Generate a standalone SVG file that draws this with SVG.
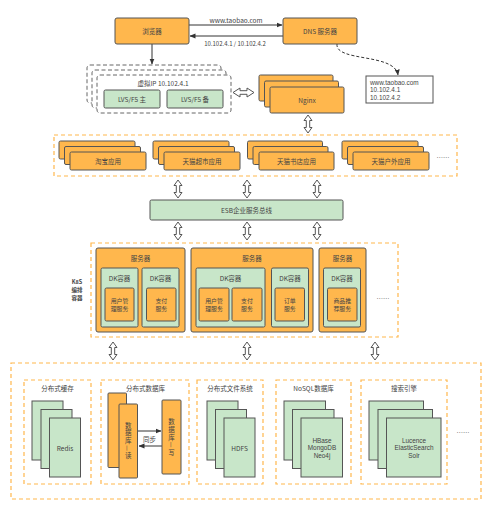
<svg xmlns="http://www.w3.org/2000/svg" xmlns:xlink="http://www.w3.org/1999/xlink" width="500" height="510" viewBox="0 0 500 510">
<style>
.o{fill:#FFB74D;stroke:#555;stroke-width:1}
.g{fill:#C8E6C9;stroke:#555;stroke-width:1}
.w{fill:#fff;stroke:#555;stroke-width:1}
.od{fill:none;stroke:#FFB74D;stroke-width:1.2;stroke-dasharray:4 3}
.gd{fill:#fff;stroke:#666;stroke-width:1;stroke-dasharray:4 2.5}
.t{font-family:"Noto Sans CJK SC","Liberation Sans",sans-serif;font-size:6.5px;fill:#444;text-anchor:middle;dominant-baseline:central}
.m{font-family:"Liberation Sans","Noto Sans CJK SC",sans-serif;font-size:6.4px}
.s{font-size:5.9px}
.l{text-anchor:start}
.b{font-weight:bold;font-size:5.5px}
.ln{fill:none;stroke:#333;stroke-width:1}
.ha{fill:#fff;stroke:#555;stroke-width:1}
.v{writing-mode:vertical-rl;letter-spacing:1.3px}
</style>
<defs>
<marker id="ah" markerWidth="6" markerHeight="6" refX="5.5" refY="3" orient="auto" markerUnits="userSpaceOnUse">
<path d="M0,0.5 L6,3 L0,5.5 Z" fill="#333"/>
</marker>
<path id="va" d="M0,-9 L4,-3.5 L1.7,-3.5 L1.7,3.5 L4,3.5 L0,9 L-4,3.5 L-1.7,3.5 L-1.7,-3.5 L-4,-3.5 Z"/>
</defs>

<g id="connectors">
<line class="ln" x1="189" y1="25" x2="282" y2="25" marker-end="url(#ah)"/>
<line class="ln" x1="283" y1="36" x2="190" y2="36" marker-end="url(#ah)"/>
<text class="t" x="236" y="20">www.taobao.com</text>
<text class="t" x="235" y="43" style="font-size:6px">10.102.4.1 / 10.102.4.2</text>
<line class="ln" x1="152" y1="44" x2="152" y2="64" marker-end="url(#ah)"/>
<path class="ln" d="M337,44 C335,62 395,53 398,75" stroke-dasharray="3 2" marker-end="url(#ah)"/>
<path class="ha" d="M233,92.5 L240,88 L240,90.7 L247,90.7 L247,88 L254,92.5 L247,97 L247,94.3 L240,94.3 L240,97 Z"/>
<use xlink:href="#va" class="ha" x="308" y="124"/>
<use xlink:href="#va" class="ha" x="178" y="189"/>
<use xlink:href="#va" class="ha" x="247" y="189"/>
<use xlink:href="#va" class="ha" x="317" y="189"/>
<use xlink:href="#va" class="ha" x="178" y="231"/>
<use xlink:href="#va" class="ha" x="247" y="231"/>
<use xlink:href="#va" class="ha" x="317" y="231"/>
<use xlink:href="#va" class="ha" x="113" y="351"/>
<use xlink:href="#va" class="ha" x="247" y="351"/>
<use xlink:href="#va" class="ha" x="375" y="351"/>
<line class="ln" x1="138" y1="431" x2="161" y2="431" marker-end="url(#ah)"/>
<line class="ln" x1="162" y1="446" x2="139" y2="446" marker-end="url(#ah)"/>
<text class="t" x="149.5" y="438.5">同步</text>
</g>

<g id="browser">
<rect class="o" x="115" y="18" width="74" height="26" rx="2"/>
<text class="t" x="152" y="31">浏览器</text>
</g>
<g id="dns">
<rect class="o" x="283" y="18" width="74" height="26" rx="2"/>
<text class="t" x="320" y="31">DNS 服务器</text>
</g>
<g id="dns-record">
<rect class="w" x="366" y="76" width="67" height="27"/>
<text class="t m l" x="370" y="82.3">www.taobao.com</text>
<text class="t m l" x="370" y="89.8">10.102.4.1</text>
<text class="t m l" x="370" y="97.3">10.102.4.2</text>
</g>
<g id="vip">
<rect class="gd" x="87" y="65" width="134" height="38" rx="3"/>
<rect class="gd" x="92" y="70" width="134" height="38" rx="3"/>
<rect class="gd" x="97" y="75" width="134" height="38" rx="3"/>
<text class="t" x="163" y="83">虚拟IP 10.102.4.1</text>
<rect class="g" x="104" y="90" width="56" height="18" rx="1.5"/>
<text class="t" x="132" y="99">LVS/F5 主</text>
<rect class="g" x="167" y="90" width="56" height="18" rx="1.5"/>
<text class="t" x="195" y="99">LVS/F5 备</text>
</g>
<g id="nginx">
<rect class="o" x="259" y="75" width="74" height="26" rx="1.5"/>
<rect class="o" x="264.5" y="81" width="74" height="26" rx="1.5"/>
<rect class="o" x="270" y="87" width="74" height="26" rx="1.5"/>
<text class="t" x="307" y="100">Nginx</text>
</g>

<g id="apps">
<rect class="od" x="54" y="135" width="403" height="41"/>
<g id="app-taobao">
<rect class="o" x="59" y="141" width="76" height="18" rx="1.5"/>
<rect class="o" x="64.5" y="146.5" width="76" height="18" rx="1.5"/>
<rect class="o" x="70" y="152" width="76" height="18" rx="1.5"/>
<text class="t" x="108" y="161">淘宝应用</text>
</g>
<g id="app-chaoshi">
<rect class="o" x="153" y="141" width="76" height="18" rx="1.5"/>
<rect class="o" x="158.5" y="146.5" width="76" height="18" rx="1.5"/>
<rect class="o" x="164" y="152" width="76" height="18" rx="1.5"/>
<text class="t" x="202" y="161">天猫超市应用</text>
</g>
<g id="app-shudian">
<rect class="o" x="247.5" y="141" width="75" height="18" rx="1.5"/>
<rect class="o" x="253" y="146.5" width="75" height="18" rx="1.5"/>
<rect class="o" x="259" y="152" width="75" height="18" rx="1.5"/>
<text class="t" x="296.5" y="161">天猫书店应用</text>
</g>
<g id="app-huwai">
<rect class="o" x="342" y="141" width="76" height="18" rx="1.5"/>
<rect class="o" x="347.5" y="146.5" width="76" height="18" rx="1.5"/>
<rect class="o" x="353" y="152" width="76" height="18" rx="1.5"/>
<text class="t" x="391" y="161">天猫户外应用</text>
</g>
<text class="t" x="443" y="157">……</text>
</g>

<g id="esb">
<rect class="g" x="150" y="200" width="193" height="20" rx="1.5"/>
<text class="t" x="246.5" y="210">ESB企业服务总线</text>
</g>

<g id="k8s">
<rect class="od" x="91" y="243" width="307" height="94"/>
<text class="t b" x="77" y="281.5">K8S</text>
<text class="t b" x="77" y="289.5">编排</text>
<text class="t b" x="77" y="297.5">容器</text>
<g id="server1">
<rect class="o" x="96" y="248" width="89" height="84" rx="2"/>
<text class="t" x="140.5" y="258">服务器</text>
<rect class="g" x="101" y="268" width="37" height="59" rx="1.5"/>
<text class="t" x="119.5" y="278">DK容器</text>
<rect class="o" x="105" y="288" width="29" height="33" rx="1.5"/>
<text class="t s" x="119.5" y="300.2">用户管</text>
<text class="t s" x="119.5" y="308.8">理服务</text>
<rect class="g" x="142" y="268" width="37" height="59" rx="1.5"/>
<text class="t" x="160.5" y="278">DK容器</text>
<rect class="o" x="146.5" y="288" width="29.5" height="33" rx="1.5"/>
<text class="t s" x="161.3" y="300.2">支付</text>
<text class="t s" x="161.3" y="308.8">服务</text>
</g>
<g id="server2">
<rect class="o" x="191" y="248" width="122" height="84" rx="2"/>
<text class="t" x="252" y="258">服务器</text>
<rect class="g" x="196" y="268" width="69" height="59" rx="1.5"/>
<text class="t" x="230.5" y="278">DK容器</text>
<rect class="o" x="199" y="288" width="30" height="33" rx="1.5"/>
<text class="t s" x="214" y="300.2">用户管</text>
<text class="t s" x="214" y="308.8">理服务</text>
<rect class="o" x="232" y="288" width="30" height="33" rx="1.5"/>
<text class="t s" x="247" y="300.2">支付</text>
<text class="t s" x="247" y="308.8">服务</text>
<rect class="g" x="271.5" y="268" width="37" height="59" rx="1.5"/>
<text class="t" x="290" y="278">DK容器</text>
<rect class="o" x="275" y="288" width="29.5" height="33" rx="1.5"/>
<text class="t s" x="289.8" y="300.2">订单</text>
<text class="t s" x="289.8" y="308.8">服务</text>
</g>
<g id="server3">
<rect class="o" x="319" y="248" width="47" height="84" rx="2"/>
<text class="t" x="342.5" y="258">服务器</text>
<rect class="g" x="323.5" y="268" width="37" height="59" rx="1.5"/>
<text class="t" x="342" y="278">DK容器</text>
<rect class="o" x="327.5" y="288" width="29.5" height="33" rx="1.5"/>
<text class="t s" x="342.3" y="300.2">商品推</text>
<text class="t s" x="342.3" y="308.8">荐服务</text>
</g>
<text class="t" x="383" y="298">……</text>
</g>

<g id="storage">
<rect class="od" x="11" y="363" width="470" height="136"/>
<g id="cache">
<rect class="od" x="24" y="380" width="67" height="104"/>
<text class="t" x="57.5" y="387.5">分布式缓存</text>
<rect class="g" x="32" y="401" width="31" height="59"/>
<rect class="g" x="41" y="409.5" width="31" height="59"/>
<rect class="g" x="49.5" y="418" width="31" height="59"/>
<text class="t" x="65" y="448">Redis</text>
</g>
<g id="database">
<rect class="od" x="101" y="380" width="88" height="104"/>
<text class="t" x="145.5" y="387.5">分布式数据库</text>
<rect class="o" x="108" y="393" width="18.5" height="74.5" rx="1"/>
<rect class="o" x="119" y="404" width="18.5" height="74" rx="1"/>
<text class="t v" x="128.3" y="441">数据库—读</text>
<rect class="o" x="162" y="400" width="19" height="74" rx="1"/>
<text class="t v" x="171.5" y="437.5">数据库—写</text>
</g>
<g id="dfs">
<rect class="od" x="197" y="380" width="66" height="104"/>
<text class="t" x="230" y="387.5">分布式文件系统</text>
<rect class="g" x="207" y="401" width="31" height="59"/>
<rect class="g" x="215.5" y="409.5" width="31" height="59"/>
<rect class="g" x="224" y="418" width="31" height="59"/>
<text class="t" x="239.5" y="448">HDFS</text>
</g>
<g id="nosql">
<rect class="od" x="276" y="380" width="75" height="104"/>
<text class="t" x="313.5" y="387.5">NoSQL数据库</text>
<rect class="g" x="284" y="401" width="41.5" height="59"/>
<rect class="g" x="292.5" y="409.5" width="41.5" height="59"/>
<rect class="g" x="301" y="418" width="41.5" height="59"/>
<text class="t m" x="322" y="440">HBase</text>
<text class="t m" x="322" y="447.7">MongoDB</text>
<text class="t m" x="322" y="455.4">Neo4j</text>
</g>
<g id="search">
<rect class="od" x="361" y="380" width="86" height="104"/>
<text class="t" x="404" y="387.5">搜索引擎</text>
<rect class="g" x="369" y="401" width="54.5" height="59"/>
<rect class="g" x="378" y="409.5" width="54.5" height="59"/>
<rect class="g" x="386.5" y="418" width="54.5" height="59"/>
<text class="t m" x="414" y="440">Lucence</text>
<text class="t m" x="414" y="447.7">ElasticSearch</text>
<text class="t m" x="414" y="455.4">Solr</text>
</g>
<text class="t" x="463" y="432">……</text>
</g>
</svg>
